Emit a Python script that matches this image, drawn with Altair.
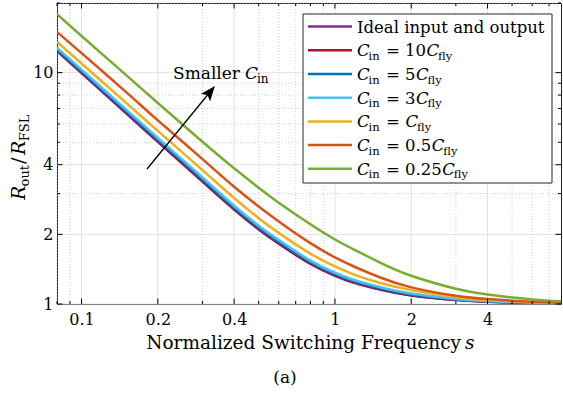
import altair as alt
import pandas as pd

# ---------------- data ----------------
s_vals = [0.08, 0.1, 0.15, 0.2, 0.3, 0.4, 0.5, 0.6, 0.8, 1.0, 1.2, 1.5, 2.0, 3.0, 4.0, 6.0, 8.0]
ideal  = [12.4, 9.95, 6.67, 5.02, 3.38, 2.56, 2.10, 1.82, 1.49, 1.325, 1.232, 1.155, 1.088, 1.04, 1.022, 1.010, 1.006]
c_10   = [12.48, 10.01, 6.71, 5.05, 3.40, 2.575, 2.112, 1.83, 1.498, 1.332, 1.238, 1.16, 1.091, 1.042, 1.023, 1.011, 1.006]
c_5    = [12.59, 10.11, 6.79, 5.12, 3.45, 2.61, 2.14, 1.855, 1.517, 1.346, 1.249, 1.169, 1.098, 1.046, 1.026, 1.012, 1.007]
c_3    = [12.8, 10.3, 6.92, 5.22, 3.52, 2.66, 2.18, 1.89, 1.54, 1.365, 1.266, 1.184, 1.109, 1.052, 1.030, 1.014, 1.008]
c_1    = [13.6, 10.95, 7.40, 5.60, 3.79, 2.87, 2.35, 2.03, 1.65, 1.455, 1.337, 1.236, 1.148, 1.069, 1.039, 1.018, 1.011]
c_05   = [15.0, 12.14, 8.24, 6.22, 4.23, 3.21, 2.64, 2.275, 1.833, 1.59, 1.445, 1.305, 1.18, 1.085, 1.05, 1.023, 1.014]
c_025  = [17.9, 14.4, 9.76, 7.39, 5.03, 3.86, 3.18, 2.74, 2.21, 1.90, 1.71, 1.514, 1.324, 1.163, 1.098, 1.046, 1.027]

series_values = [ideal, c_10, c_5, c_3, c_1, c_05, c_025]
series_colors = ["#7E2F8E", "#A2142F", "#0072BD", "#4DBEEE", "#EDB120", "#D95319", "#77AC30"]
legend_coefs = [None, "10", "5", "3", "", "0.5", "0.25"]

x_major = [0.1, 0.2, 0.4, 1, 2, 4]
x_minor = [0.08, 0.09, 0.3, 0.5, 0.6, 0.7, 0.8, 0.9, 3, 5, 6, 7]
y_major = [1, 2, 4, 10]
y_minor = [3, 5, 6, 7, 8, 9, 20]

# ---------------- layout ----------------
W, H = 504, 301
FONT = "DejaVu Serif"
xs = alt.Scale(type="log", domain=[0.08, 7.8], nice=False)
ys = alt.Scale(type="log", domain=[1, 20], nice=False)
AX = alt.Axis(values=x_major, format="~g", grid=False, ticks=False, domain=False,
              labelFont=FONT, labelFontSize=16, labelColor="black", labelPadding=7,
              labelFlush=False, labelOverlap=False, title=None)
AY = alt.Axis(values=y_major, format="~g", grid=False, ticks=False, domain=False,
              labelFont=FONT, labelFontSize=16, labelColor="black", labelPadding=4,
              labelFlush=False, labelOverlap=False, title=None)

def X(f):
    return alt.X(f, scale=xs, axis=AX)

def Y(f):
    return alt.Y(f, scale=ys, axis=AY)

one = pd.DataFrame({"k": [0]})
layers = []

# major grid (solid) and minor grid (dotted)
layers.append(alt.Chart(pd.DataFrame({"v": x_major})).mark_rule(
    color="#e2e2e2", strokeWidth=1).encode(x=X("v:Q"), y=alt.value(0), y2=alt.value(H)))
layers.append(alt.Chart(pd.DataFrame({"v": y_major})).mark_rule(
    color="#e2e2e2", strokeWidth=1).encode(y=Y("v:Q"), x=alt.value(0), x2=alt.value(W)))
layers.append(alt.Chart(pd.DataFrame({"v": x_minor})).mark_rule(
    color="#cdcdcd", strokeWidth=1, strokeDash=[1, 2]).encode(
    x=X("v:Q"), y=alt.value(0), y2=alt.value(H)))
layers.append(alt.Chart(pd.DataFrame({"v": y_minor})).mark_rule(
    color="#cdcdcd", strokeWidth=1, strokeDash=[1, 2]).encode(
    y=Y("v:Q"), x=alt.value(0), x2=alt.value(W)))

# curves
for vals, col in zip(series_values, series_colors):
    df = pd.DataFrame({"s": s_vals, "r": vals})
    layers.append(alt.Chart(df).mark_line(
        color=col, strokeWidth=2.5, clip=True, interpolate="natural").encode(
        x=X("s:Q"), y=Y("r:Q")))

# inward ticks on all four sides
for vals, ln in ((x_major, 5.5), (x_minor, 3)):
    d = pd.DataFrame({"v": vals})
    layers.append(alt.Chart(d).mark_rule(color="black", strokeWidth=1).encode(
        x=X("v:Q"), y=alt.value(H), y2=alt.value(H - ln)))
    layers.append(alt.Chart(d).mark_rule(color="black", strokeWidth=1).encode(
        x=X("v:Q"), y=alt.value(0), y2=alt.value(ln)))
for vals, ln in ((y_major, 5.5), (y_minor, 3)):
    d = pd.DataFrame({"v": vals})
    layers.append(alt.Chart(d).mark_rule(color="black", strokeWidth=1).encode(
        y=Y("v:Q"), x=alt.value(0), x2=alt.value(ln)))
    layers.append(alt.Chart(d).mark_rule(color="black", strokeWidth=1).encode(
        y=Y("v:Q"), x=alt.value(W), x2=alt.value(W - ln)))

# arrow annotation
layers.append(alt.Chart(one).mark_rule(color="black", strokeWidth=1.3).encode(
    x=alt.value(90), y=alt.value(166), x2=alt.value(153), y2=alt.value(89)))
layers.append(alt.Chart(one).mark_point(
    shape="M0,-1L0.75,0.9L0,0.45L-0.75,0.9Z", filled=True, size=256, angle=39,
    color="black", opacity=1, strokeWidth=0).encode(
    x=alt.value(152.9), y=alt.value(89.2)))

# legend box and samples
layers.append(alt.Chart(one).mark_rect(fill="white", stroke="#262626", strokeWidth=1).encode(
    x=alt.value(246), x2=alt.value(495), y=alt.value(11), y2=alt.value(180)))
row_y = [23.6 + i * 23.7 for i in range(len(series_colors))]
for ry, col in zip(row_y, series_colors):
    layers.append(alt.Chart(one).mark_rule(strokeWidth=2.5, color=col).encode(
        x=alt.value(251), x2=alt.value(295), y=alt.value(ry)))

# text pieces (math-like labels composed from pieces)
EM = {"0": 0.636, "1": 0.636, "2": 0.636, "3": 0.636, "5": 0.636, ".": 0.318,
      "=": 0.838, " ": 0.318}
def tw(t, fs):
    return sum(EM.get(c, 0.6) for c in t) * fs

def txt(t, x, y, fs, italic=False, angle=0, align="left"):
    props = dict(text=t, font=FONT, fontSize=fs, align=align,
                 baseline="alphabetic", color="black",
                 fontStyle="italic" if italic else "normal")
    if angle:
        props["angle"] = angle
    return alt.Chart(one).mark_text(**props).encode(x=alt.value(x), y=alt.value(y))

FS_L, SUB_L = 16.5, 11.5
x0 = 300
for i, coef in enumerate(legend_coefs):
    ry = row_y[i]
    if coef is None:
        layers.append(txt("Ideal input and output", x0, ry + 6, FS_L))
        continue
    layers.append(txt("C", x0, ry + 6, FS_L, italic=True))
    layers.append(txt("in", x0 + 11.5, ry + 9.5, SUB_L))
    eq = "= " + coef if coef else "="
    xe = x0 + 29
    layers.append(txt(eq, xe, ry + 6, FS_L))
    xc = xe + tw("= " + coef, FS_L) + 0.5
    layers.append(txt("C", xc, ry + 6, FS_L, italic=True))
    layers.append(txt("fly", xc + 11.5, ry + 9.5, SUB_L))

# "Smaller C_in"
layers.append(txt("Smaller", 116, 75.5, 17))
layers.append(txt("C", 188, 75.5, 17, italic=True))
layers.append(txt("in", 200, 79.5, 12))

# y title R_out / R_FSL (rotated)
yb = 197
layers.append(txt("R", -32, yb, 19, italic=True, angle=270))
layers.append(txt("out", -28, yb - 13.6, 13, angle=270))
layers.append(txt("/", -32, yb - 13.6 - 22.5, 19, angle=270))
layers.append(txt("R", -32, yb - 13.6 - 22.5 - 9, 19, italic=True, angle=270))
layers.append(txt("FSL", -28, yb - 13.6 - 22.5 - 9 - 13.6, 13, angle=270))

# x title and caption
layers.append(txt("Normalized Switching Frequency", 404, 346, 18.5, align="right"))
layers.append(txt("s", 408, 346, 18.5, italic=True))
layers.append(txt("(a)", 228, 380, 17, align="center"))

chart = alt.layer(*layers).properties(
    width=W, height=H,
    autosize=alt.AutoSizeParams(type="none"),
    padding={"left": 57, "top": 3, "right": 2, "bottom": 92},
    background="white",
).configure_view(stroke="#222222", strokeWidth=1)

chart.save("out.html", embed_options={"renderer": "svg", "actions": False})
